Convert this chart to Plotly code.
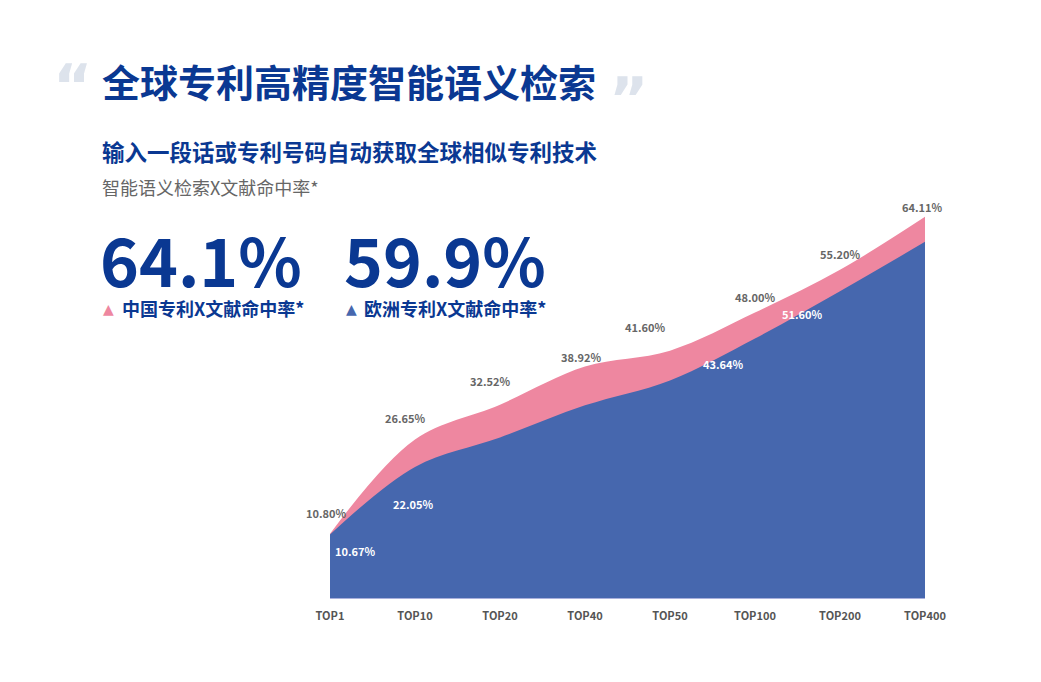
import plotly.graph_objects as go

# ---- data ----
categories = ["TOP1", "TOP10", "TOP20", "TOP40", "TOP50", "TOP100", "TOP200", "TOP400"]
china_rate = [10.80, 26.65, 32.52, 38.92, 41.60, 48.00, 55.20, 64.11]
europe_rate = [10.67, 22.05, 27.0, 32.4, 36.6, 43.64, 51.60, 59.9]
europe_label_shown = [True, True, False, False, False, True, True, False]
china_headline = "64.1%"
europe_headline = "59.9%"
title_text = "全球专利高精度智能语义检索"
subtitle_text = "输入一段话或专利号码自动获取全球相似专利技术"
caption_text = "智能语义检索X文献命中率*"
china_name = "中国专利X文献命中率*"
europe_name = "欧洲专利X文献命中率*"

# ---- style ----
W, H = 1041, 682
L, R, T, B = 330, 925, 200, 598
PINK = "#ee87a0"
BLUE = "#4667ae"
NAVY = "#0a3892"
FONT = "Noto Sans CJK SC"
ymax = 66.94

def px(x):
    return (x - L) / (R - L)

def py(y):
    return (B - y) / (B - T)

fig = go.Figure()
fig.add_trace(go.Scatter(
    x=categories, y=china_rate, mode="lines", line=dict(shape="spline", width=0, color=PINK, smoothing=1),
    fill="tozeroy", fillcolor=PINK, hoverinfo="skip", showlegend=False))
fig.add_trace(go.Scatter(
    x=categories, y=europe_rate, mode="lines", line=dict(shape="spline", width=0, color=BLUE, smoothing=1),
    fill="tozeroy", fillcolor=BLUE, hoverinfo="skip", showlegend=False))

ann = []
# pink value labels (offsets in px)
pink_off = [(-4, 21), (-10, 22), (-10, 24), (-4, 10), (-25, 24), (0, 16), (0, 16), (-3, 10)]
for c, v, (dx, dy) in zip(categories, china_rate, pink_off):
    ann.append(dict(x=c, y=v, xref="x", yref="y", text=f"<b>{v:.2f}%</b>", showarrow=False,
                    xshift=dx, yshift=dy, font=dict(size=11, color="#666666", family=FONT)))
blue_off = [(25, -16), (-2, -37), (0, 0), (0, 0), (0, 0), (-32, -25), (-38, -23), (0, 0)]
for c, v, show, (dx, dy) in zip(categories, europe_rate, europe_label_shown, blue_off):
    if show:
        ann.append(dict(x=c, y=v, xref="x", yref="y", text=f"<b>{v:.2f}%</b>", showarrow=False,
                        xshift=dx, yshift=dy, font=dict(size=11, color="white", family=FONT)))

def txt(x, y, s, size, color, bold=True, family=FONT):
    ann.append(dict(x=px(x), y=py(y), xref="paper", yref="paper", xanchor="left", yanchor="middle",
                    text=(f"<b>{s}</b>" if bold else s), showarrow=False,
                    font=dict(size=size, color=color, family=family)))

txt(51, 86, "“", 60, "#dde3ec", family="DejaVu Sans")
txt(607, 99, "”", 60, "#dde3ec", family="DejaVu Sans")
txt(100, 80, title_text, 38, NAVY)
txt(100, 151, subtitle_text, 22.5, NAVY)
txt(100, 187, caption_text, 18, "#666666", bold=False)
txt(98, 258, china_headline, 66, NAVY)
txt(342, 258, europe_headline, 66, NAVY)
txt(101, 309, "▲", 14, PINK, bold=False, family="DejaVu Sans")
txt(120, 308, china_name, 18, NAVY)
txt(344, 309, "▲", 14, BLUE, bold=False, family="DejaVu Sans")
txt(362, 308, europe_name, 18, NAVY)

fig.update_layout(
    width=W, height=H,
    margin=dict(l=L, r=W - R, t=T, b=H - B),
    paper_bgcolor="white", plot_bgcolor="white",
    font=dict(family=FONT),
    annotations=ann,
    xaxis=dict(type="category", range=[0, len(categories) - 1], showgrid=False, zeroline=False,
               showline=True, linecolor="#a9b0dc", linewidth=1, ticks="",
               tickvals=categories, ticktext=[f"<b>{c}</b>" for c in categories],
               tickfont=dict(size=11, color="#555555", family=FONT), ticklabelstandoff=8),
    yaxis=dict(range=[0, ymax], visible=False),
)

fig.write_html("out.html", config={"displayModeBar": False},
               post_script="document.body.style.margin='0';")
